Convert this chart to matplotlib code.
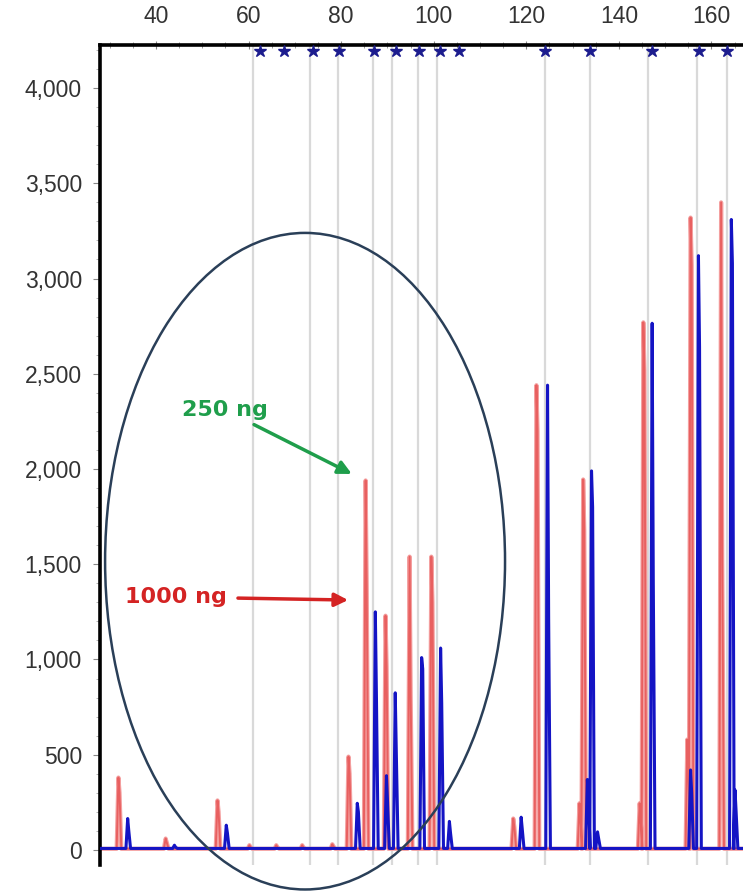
import numpy as np
import matplotlib.pyplot as plt
from matplotlib.patches import Ellipse

# Размеры фрагментов (п.н.) и высоты пиков (RFU)
red_pos = [32.0, 42.2, 53.4, 60.3, 66.1, 71.7, 78.2, 81.7, 85.4, 89.7, 94.9, 99.6,
           117.3, 122.3, 131.6, 132.4, 144.6, 145.4, 154.9, 155.6, 162.2]
red_top = [380, 60, 260, 25, 25, 25, 30, 490, 1940, 1230, 1540, 1540,
           165, 2440, 245, 1945, 245, 2770, 580, 3320, 3400]
red_sh = [300, 40, 200, 15, 15, 15, 20, 400, 1390, 960, 800, 1300,
          120, 2200, 150, 1680, 150, 2520, 400, 3070, 1530]

blue_pos = [34.0, 44.1, 55.3, 83.6, 87.5, 89.9, 91.8, 97.5, 101.6, 103.5,
            119.0, 124.7, 133.3, 134.2, 135.5, 147.3, 155.6, 157.3, 164.4, 165.2]
blue_top = [165, 25, 130, 245, 1250, 390, 825, 1010, 1060, 150,
            172, 2440, 370, 1990, 95, 2765, 420, 3120, 3310, 315]
blue_sh = [100, 15, 90, 200, 800, 250, 500, 950, 770, 90,
           110, 1220, 250, 1800, 60, 1430, 300, 2640, 3080, 200]

# Положения бинов (серые линии) и маркеров-звёзд
bins = [61.0, 73.3, 79.3, 86.9, 91.0, 96.6, 100.7, 124.0, 133.7, 146.3, 156.8, 163.3]
stars = [62.5, 67.6, 73.9, 79.5, 87.1, 91.8, 96.8, 101.3, 105.4,
         124.0, 133.7, 147.1, 157.3, 163.3]

x_ticks = [40, 60, 80, 100, 120, 140, 160]
y_ticks = [0, 500, 1000, 1500, 2000, 2500, 3000, 3500, 4000]
y_labels = ['0', '500', '1,000', '1,500', '2,000', '2,500', '3,000', '3,500', '4,000']


def build_trace(pos, top, sh, base):
    xs = [27.0]
    ys = [base]
    for p, t, s in sorted(zip(pos, top, sh)):
        xs += [p - 0.5, p - 0.12, p + 0.12, p + 0.5]
        ys += [base, t, s, base]
    xs.append(176.0)
    ys.append(base)
    return np.array(xs), np.array(ys)


plt.rcParams['font.family'] = ['Liberation Sans', 'DejaVu Sans']

fig = plt.figure(figsize=(7.43, 8.96), dpi=100)
ax = fig.add_axes([100 / 743, 1 - 865 / 896, 680 / 743, 820 / 896])
ax.set_xlim(27.9, 174.8)
ax.set_ylim(-79, 4226)

for b in bins:
    ax.axvline(b, color='#d9d9d9', lw=1.6, zorder=1)

rx, ry = build_trace(red_pos, red_top, red_sh, 6)
bx, by = build_trace(blue_pos, blue_top, blue_sh, 8)
ax.plot(rx, ry, color='#f4a0a0', lw=3.0, zorder=2)
ax.plot(rx, ry, color='#e86060', lw=1.4, zorder=2)
ax.plot(bx, by, color='#1414c4', lw=2.2, zorder=3)

ax.plot(stars, [4192] * len(stars), linestyle='none', marker='*', markersize=9,
        color='#1c1c8e', clip_on=False, zorder=5)

ell = Ellipse((72.2, 1516), 86.4, 3447, fill=False, edgecolor='#2a3f58',
              lw=1.8, clip_on=False, zorder=4)
ax.add_patch(ell)

ax.annotate('250 ng', xy=(82.3, 1974), xytext=(54.9, 2310),
            color='#1f9e4b', fontsize=16, fontweight='bold', ha='center', va='center',
            family=['DejaVu Sans'],
            arrowprops=dict(arrowstyle='-|>', color='#1f9e4b', lw=2.5,
                            mutation_scale=20, shrinkA=3, shrinkB=0))
ax.annotate('1000 ng', xy=(81.5, 1312), xytext=(44.3, 1328),
            color='#d42323', fontsize=16, fontweight='bold', ha='center', va='center',
            family=['DejaVu Sans'],
            arrowprops=dict(arrowstyle='-|>', color='#d42323', lw=2.5,
                            mutation_scale=20, shrinkA=6, shrinkB=0))

for s in ['right', 'bottom']:
    ax.spines[s].set_visible(False)
ax.spines['top'].set_linewidth(2.6)
ax.spines['left'].set_linewidth(2.6)

ax.xaxis.tick_top()
ax.set_xticks(x_ticks)
ax.set_xticklabels([str(v) for v in x_ticks])
ax.set_xticks(np.arange(30, 175, 5), minor=True)
ax.tick_params(axis='x', which='major', direction='inout', length=6, color='#888888',
               labelsize=16.5, labelcolor='#333333', pad=9)
ax.tick_params(axis='x', which='minor', direction='inout', length=4, color='#888888')

ax.set_yticks(y_ticks)
ax.set_yticklabels(y_labels)
ax.set_yticks(np.arange(0, 4201, 100), minor=True)
ax.tick_params(axis='y', which='major', direction='out', length=5, color='#888888',
               labelsize=16.5, labelcolor='#333333', pad=8)
ax.tick_params(axis='y', which='minor', direction='out', length=3, color='#aaaaaa')

fig.savefig('out.png', dpi=100)
